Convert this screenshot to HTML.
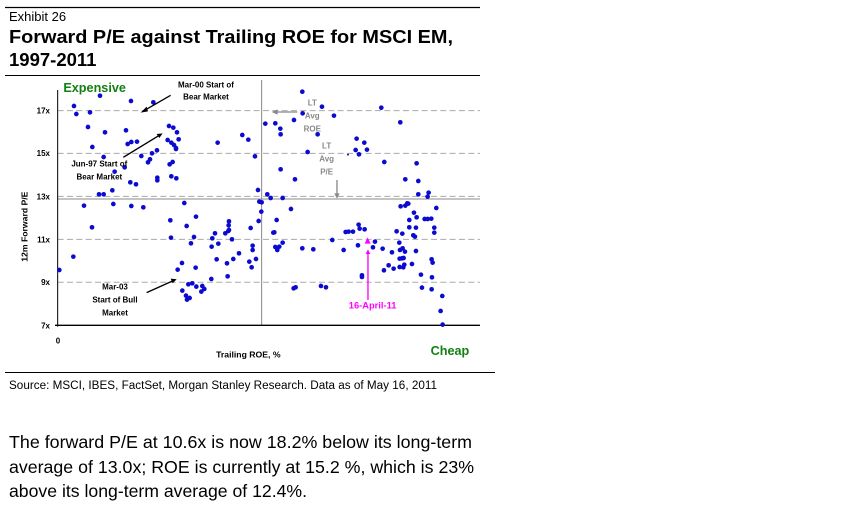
<!DOCTYPE html>
<html><head><meta charset="utf-8"><style>
html,body{margin:0;padding:0;background:#fff;}
svg{display:block;font-family:"Liberation Sans",Arial,sans-serif;}
</style></head><body>
<svg width="843" height="521" viewBox="0 0 843 521" xmlns="http://www.w3.org/2000/svg">
<line x1="5" y1="7.5" x2="480" y2="7.5" stroke="#000" stroke-width="1.3"/>
<text x="9" y="21" font-size="13">Exhibit 26</text>
<text x="9" y="43" font-size="18.5" font-weight="bold" textLength="444" lengthAdjust="spacingAndGlyphs">Forward P/E against Trailing ROE for MSCI EM,</text>
<text x="9" y="66" font-size="18.5" font-weight="bold">1997-2011</text>
<line x1="5" y1="75.5" x2="480" y2="75.5" stroke="#000" stroke-width="1"/>

<g transform="translate(0,70) scale(0.3333)">
  <g stroke="#aaa" stroke-width="3" stroke-dasharray="18,10">
    <line x1="173" y1="122" x2="1440" y2="122"/>
    <line x1="173" y1="250" x2="1440" y2="250"/>
    <line x1="173" y1="379" x2="1440" y2="379"/>
    <line x1="173" y1="508" x2="1440" y2="508"/>
    <line x1="173" y1="637" x2="1440" y2="637"/>
  </g>
  <line x1="785" y1="30" x2="785" y2="766" stroke="#888" stroke-width="3"/>
  <line x1="173" y1="387" x2="1440" y2="387" stroke="#888" stroke-width="3"/>
  <line x1="173" y1="60" x2="173" y2="770" stroke="#000" stroke-width="3"/>
  <line x1="165" y1="766" x2="1440" y2="766" stroke="#000" stroke-width="4"/>
  <g font-size="24" font-weight="bold" text-anchor="end">
    <text x="150" y="130">17x</text><text x="150" y="258">15x</text><text x="150" y="388">13x</text>
    <text x="150" y="517">11x</text><text x="150" y="645">9x</text><text x="150" y="775">7x</text>
  </g>
  <text x="174" y="820" font-size="24" font-weight="bold" text-anchor="middle">0</text>
  <text x="745" y="862" font-size="26" font-weight="bold" text-anchor="middle">Trailing ROE, %</text>
  <text transform="translate(82,470) rotate(-90)" font-size="26" font-weight="bold" text-anchor="middle">12m Forward P/E</text>
  <text x="190" y="66" font-size="38" font-weight="bold" fill="#138013">Expensive</text>
  <text x="1292" y="855" font-size="38" font-weight="bold" fill="#138013">Cheap</text>

  <g fill="#0a0ad0">
  <circle cx="178" cy="600" r="7"/><circle cx="220" cy="560" r="7"/><circle cx="222" cy="108" r="7"/><circle cx="229" cy="132" r="7"/><circle cx="252" cy="407" r="7"/><circle cx="264" cy="171" r="7"/><circle cx="270" cy="127" r="7"/><circle cx="276" cy="472" r="7"/><circle cx="277" cy="231" r="7"/><circle cx="297" cy="373" r="7"/><circle cx="300" cy="77" r="7"/><circle cx="311" cy="373" r="7"/><circle cx="311" cy="261" r="7"/><circle cx="315" cy="187" r="7"/><circle cx="337" cy="361" r="7"/><circle cx="340" cy="402" r="7"/><circle cx="344" cy="305" r="7"/><circle cx="374" cy="292" r="7"/><circle cx="378" cy="181" r="7"/><circle cx="383" cy="222" r="7"/><circle cx="391" cy="337" r="7"/><circle cx="394" cy="216" r="7"/><circle cx="393" cy="93" r="7"/><circle cx="394" cy="408" r="7"/><circle cx="408" cy="343" r="7"/><circle cx="411" cy="215" r="7"/><circle cx="424" cy="258" r="7"/><circle cx="430" cy="412" r="7"/><circle cx="444" cy="277" r="7"/><circle cx="450" cy="268" r="7"/><circle cx="456" cy="250" r="7"/><circle cx="460" cy="97" r="7"/><circle cx="471" cy="241" r="7"/><circle cx="472" cy="323" r="7"/><circle cx="472" cy="331" r="7"/><circle cx="503" cy="210" r="7"/><circle cx="507" cy="168" r="7"/><circle cx="509" cy="283" r="7"/><circle cx="511" cy="451" r="7"/><circle cx="513" cy="503" r="7"/><circle cx="514" cy="218" r="7"/><circle cx="514" cy="319" r="7"/><circle cx="518" cy="276" r="7"/><circle cx="520" cy="173" r="7"/><circle cx="522" cy="225" r="7"/><circle cx="528" cy="234" r="7"/><circle cx="528" cy="237" r="7"/><circle cx="529" cy="325" r="7"/><circle cx="531" cy="187" r="7"/><circle cx="536" cy="208" r="7"/><circle cx="533" cy="599" r="7"/><circle cx="546" cy="579" r="7"/><circle cx="547" cy="662" r="7"/><circle cx="553" cy="399" r="7"/><circle cx="558" cy="677" r="7"/><circle cx="560" cy="468" r="7"/><circle cx="561" cy="689" r="7"/><circle cx="565" cy="643" r="7"/><circle cx="569" cy="684" r="7"/><circle cx="573" cy="520" r="7"/><circle cx="577" cy="640" r="7"/><circle cx="582" cy="501" r="7"/><circle cx="587" cy="593" r="7"/><circle cx="588" cy="440" r="7"/><circle cx="589" cy="650" r="7"/><circle cx="604" cy="665" r="7"/><circle cx="607" cy="648" r="7"/><circle cx="613" cy="657" r="7"/><circle cx="634" cy="627" r="7"/><circle cx="635" cy="530" r="7"/><circle cx="637" cy="505" r="7"/><circle cx="645" cy="490" r="7"/><circle cx="650" cy="568" r="7"/><circle cx="653" cy="218" r="7"/><circle cx="655" cy="521" r="7"/><circle cx="676" cy="490" r="7"/><circle cx="681" cy="580" r="7"/><circle cx="683" cy="619" r="7"/><circle cx="685" cy="483" r="7"/><circle cx="686" cy="466" r="7"/><circle cx="687" cy="454" r="7"/><circle cx="687" cy="480" r="7"/><circle cx="696" cy="508" r="7"/><circle cx="700" cy="567" r="7"/><circle cx="717" cy="550" r="7"/><circle cx="727" cy="195" r="7"/><circle cx="745" cy="209" r="7"/><circle cx="748" cy="575" r="7"/><circle cx="752" cy="474" r="7"/><circle cx="755" cy="592" r="7"/><circle cx="758" cy="540" r="7"/><circle cx="758" cy="527" r="7"/><circle cx="765" cy="259" r="7"/><circle cx="768" cy="567" r="7"/><circle cx="774" cy="360" r="7"/><circle cx="776" cy="453" r="7"/><circle cx="778" cy="395" r="7"/><circle cx="784" cy="425" r="7"/><circle cx="785" cy="397" r="7"/><circle cx="796" cy="161" r="7"/><circle cx="802" cy="373" r="7"/><circle cx="812" cy="384" r="7"/><circle cx="820" cy="488" r="7"/><circle cx="823" cy="487" r="7"/><circle cx="826" cy="160" r="7"/><circle cx="826" cy="531" r="7"/><circle cx="830" cy="450" r="7"/><circle cx="832" cy="540" r="7"/><circle cx="838" cy="530" r="7"/><circle cx="841" cy="176" r="7"/><circle cx="842" cy="193" r="7"/><circle cx="842" cy="298" r="7"/><circle cx="848" cy="384" r="7"/><circle cx="848" cy="518" r="7"/><circle cx="873" cy="417" r="7"/><circle cx="881" cy="655" r="7"/><circle cx="882" cy="150" r="7"/><circle cx="885" cy="328" r="7"/><circle cx="887" cy="652" r="7"/><circle cx="907" cy="65" r="7"/><circle cx="907" cy="535" r="7"/><circle cx="908" cy="130" r="7"/><circle cx="923" cy="246" r="7"/><circle cx="940" cy="538" r="7"/><circle cx="953" cy="193" r="7"/><circle cx="963" cy="648" r="7"/><circle cx="966" cy="110" r="7"/><circle cx="978" cy="652" r="7"/><circle cx="1002" cy="137" r="7"/><circle cx="997" cy="510" r="7"/><circle cx="1031" cy="540" r="7"/><circle cx="1037" cy="486" r="7"/><circle cx="1046" cy="485" r="7"/><circle cx="1059" cy="485" r="7"/><circle cx="1067" cy="240" r="7"/><circle cx="1070" cy="206" r="7"/><circle cx="1074" cy="526" r="7"/><circle cx="1076" cy="464" r="7"/><circle cx="1077" cy="253" r="7"/><circle cx="1079" cy="476" r="7"/><circle cx="1086" cy="616" r="7"/><circle cx="1086" cy="621" r="7"/><circle cx="1093" cy="218" r="7"/><circle cx="1094" cy="478" r="7"/><circle cx="1101" cy="239" r="7"/><circle cx="1119" cy="532" r="7"/><circle cx="1125" cy="515" r="7"/><circle cx="1144" cy="113" r="7"/><circle cx="1148" cy="536" r="7"/><circle cx="1152" cy="601" r="7"/><circle cx="1153" cy="276" r="7"/><circle cx="1166" cy="586" r="7"/><circle cx="1176" cy="547" r="7"/><circle cx="1181" cy="596" r="7"/><circle cx="1190" cy="484" r="7"/><circle cx="1198" cy="518" r="7"/><circle cx="1199" cy="566" r="7"/><circle cx="1200" cy="540" r="7"/><circle cx="1201" cy="157" r="7"/><circle cx="1199" cy="591" r="7"/><circle cx="1202" cy="409" r="7"/><circle cx="1206" cy="565" r="7"/><circle cx="1207" cy="491" r="7"/><circle cx="1208" cy="535" r="7"/><circle cx="1210" cy="592" r="7"/><circle cx="1211" cy="564" r="7"/><circle cx="1213" cy="584" r="7"/><circle cx="1215" cy="545" r="7"/><circle cx="1216" cy="407" r="7"/><circle cx="1216" cy="328" r="7"/><circle cx="1222" cy="400" r="7"/><circle cx="1225" cy="401" r="7"/><circle cx="1228" cy="450" r="7"/><circle cx="1228" cy="472" r="7"/><circle cx="1236" cy="582" r="7"/><circle cx="1240" cy="496" r="7"/><circle cx="1242" cy="428" r="7"/><circle cx="1245" cy="500" r="7"/><circle cx="1248" cy="543" r="7"/><circle cx="1248" cy="473" r="7"/><circle cx="1250" cy="280" r="7"/><circle cx="1250" cy="442" r="7"/><circle cx="1255" cy="333" r="7"/><circle cx="1255" cy="373" r="7"/><circle cx="1263" cy="614" r="7"/><circle cx="1266" cy="653" r="7"/><circle cx="1274" cy="447" r="7"/><circle cx="1283" cy="380" r="7"/><circle cx="1286" cy="368" r="7"/><circle cx="1283" cy="447" r="7"/><circle cx="1294" cy="446" r="7"/><circle cx="1295" cy="658" r="7"/><circle cx="1295" cy="568" r="7"/><circle cx="1296" cy="622" r="7"/><circle cx="1298" cy="578" r="7"/><circle cx="1303" cy="488" r="7"/><circle cx="1303" cy="473" r="7"/><circle cx="1309" cy="414" r="7"/><circle cx="1322" cy="723" r="7"/><circle cx="1327" cy="678" r="7"/><circle cx="1328" cy="764" r="7"/>
  <circle cx="1044" cy="254" r="3"/>
  </g>

  <!-- annotations -->
  <g stroke="#000" stroke-width="4" fill="none">
    <line x1="512" y1="76" x2="432" y2="122"/>
    <line x1="370" y1="262" x2="478" y2="196"/>
    <line x1="440" y1="668" x2="520" y2="632"/>
  </g>
  <g fill="#000">
    <polygon points="422,128 440,110 444,124"/>
    <polygon points="488,190 470,192 478,204"/>
    <polygon points="530,628 512,626 518,640"/>
  </g>
  <g font-size="24" font-weight="bold" text-anchor="middle" fill="#000">
    <text x="618" y="52">Mar-00 Start of</text>
    <text x="618" y="88">Bear Market</text>
    <text x="298" y="290">Jun-97 Start of</text>
    <text x="298" y="328">Bear Market</text>
    <text x="345" y="658">Mar-03</text>
    <text x="345" y="697">Start of Bull</text>
    <text x="345" y="736">Market</text>
  </g>
  <g font-size="24" font-weight="bold" text-anchor="middle" fill="#888">
    <text x="937" y="106">LT</text><text x="937" y="145">Avg</text><text x="937" y="184">ROE</text>
    <text x="980" y="236">LT</text><text x="980" y="275">Avg</text><text x="980" y="313">P/E</text>
  </g>
  <g stroke="#888" stroke-width="4">
    <line x1="830" y1="126" x2="892" y2="126"/>
    <line x1="1011" y1="330" x2="1011" y2="372"/>
  </g>
  <g fill="#888">
    <polygon points="815,126 833,118 833,134"/>
    <polygon points="1011,386 1003,370 1019,370"/>
  </g>
  <line x1="1104" y1="690" x2="1104" y2="550" stroke="#ff00ff" stroke-width="4"/>
  <polygon points="1104,538 1097,552 1111,552" fill="#ff00ff"/>
  <polygon points="1103,502 1094,521 1112,521" fill="#ff00ff"/>
  <text x="1118" y="715" font-size="28" font-weight="bold" fill="#ff00ff" text-anchor="middle">16-April-11</text>
</g>

<line x1="5" y1="372.5" x2="495" y2="372.5" stroke="#000" stroke-width="1"/>
<text x="9" y="389" font-size="11.5" textLength="428" lengthAdjust="spacingAndGlyphs">Source: MSCI, IBES, FactSet, Morgan Stanley Research. Data as of May 16, 2011</text>
<g font-size="17.5">
<text x="9" y="448" textLength="463" lengthAdjust="spacingAndGlyphs">The forward P/E at 10.6x is now 18.2% below its long-term</text>
<text x="9" y="473" textLength="465" lengthAdjust="spacingAndGlyphs">average of 13.0x; ROE is currently at 15.2 %, which is 23%</text>
<text x="9" y="497" textLength="298" lengthAdjust="spacingAndGlyphs">above its long-term average of 12.4%.</text>
</g>
</svg>
</body></html>
